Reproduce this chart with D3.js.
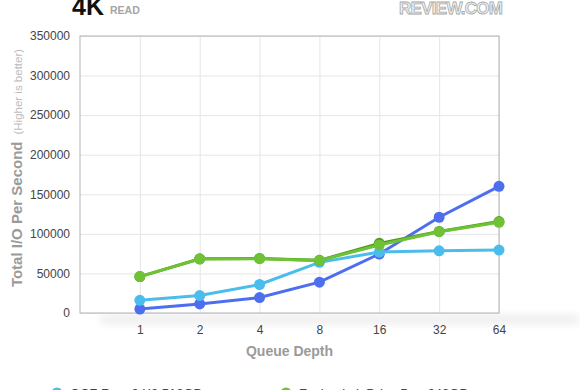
<html>
<head>
  <script src="https://d3js.org/d3.v7.min.js"></script>
  <style>
    body { margin: 0; background: #fff; overflow: hidden; }
    svg { display: block; font-family: "Liberation Sans", Arial, sans-serif; }
    .grid line { stroke: #e6e6e6; }
    .grid .domain { stroke: none; }
    .tick text { fill: #444; font-size: 12px; }
  </style>
</head>
<body>
  <svg id="chart" width="580" height="390"></svg>
  <script>
    // queue depths on the x axis
    const depths = ["1", "2", "4", "8", "16", "32", "64"];
    const yTicks = [0, 50000, 100000, 150000, 200000, 250000, 300000, 350000];

    // IOPS
    const revoX2 = [16000, 22000, 36000, 64000, 77000, 78500, 79500];
    const zDrive = [5000, 11500, 19500, 39000, 74500, 121000, 160000];
    const ioDriveDark = [46000, 68500, 69000, 66500, 88000, 103000, 115500];
    const ioDrive = [46000, 68200, 68600, 66200, 86000, 102700, 114600];

    const seriesNames = ["OCZ Revo3 X2 512GB", "Fusion-io ioDrive Duo 640GB", "OCZ Z-Drive R4 1.6TB", "Fusion-io ioDrive Duo 1.28TB"];

    const series = [
      { name: seriesNames[2], values: zDrive, color: "#4e6ef0" },
      { name: seriesNames[0], values: revoX2, color: "#4bbdec" },
      { name: seriesNames[3], values: ioDriveDark, color: "#4c9a1e" },
      { name: seriesNames[1], values: ioDrive, color: "#6fc236" }
    ];

    const svg = d3.select("#chart");
    const margin = { top: 36, right: 81, bottom: 77, left: 80 };
    const w = 580 - margin.left - margin.right;
    const h = 390 - margin.top - margin.bottom;

    const defs = svg.append("defs");
    defs.append("filter").attr("id", "blur")
      .attr("x", "-20%").attr("y", "-200%").attr("width", "140%").attr("height", "500%")
      .append("feGaussianBlur").attr("stdDeviation", 4);

    // soft shadow under the plot
    svg.append("rect")
      .attr("x", margin.left + 20).attr("y", margin.top + h + 2)
      .attr("width", w + 60).attr("height", 9)
      .attr("fill", "#000").attr("opacity", 0.07)
      .attr("filter", "url(#blur)");

    const g = svg.append("g").attr("transform", `translate(${margin.left},${margin.top})`);

    // index 0 is the empty slot at the left edge
    const x = d3.scalePoint().domain(["", ...depths]).range([0, w]);
    const y = d3.scaleLinear().domain([0, 350000]).range([h, 0]);

    g.append("rect").attr("width", w).attr("height", h).attr("fill", "#fff");

    g.append("g").attr("class", "grid")
      .call(d3.axisLeft(y).tickValues(yTicks).tickSize(-w).tickFormat(""));
    g.append("g").attr("class", "grid")
      .call(d3.axisBottom(x).tickValues(depths).tickSize(h).tickFormat(""));

    g.append("rect").attr("width", w).attr("height", h)
      .attr("fill", "none").attr("stroke", "#b3b3b3");

    const yAxis = g.append("g")
      .call(d3.axisLeft(y).tickValues(yTicks).tickSize(0).tickPadding(10).tickFormat(d3.format("d")));
    yAxis.select(".domain").remove();

    const xAxis = g.append("g").attr("transform", `translate(0,${h})`)
      .call(d3.axisBottom(x).tickValues(depths).tickSize(0).tickPadding(12));
    xAxis.select(".domain").remove();

    const line = d3.line()
      .x((d, i) => x(depths[i]))
      .y(d => y(d));

    series.forEach(s => {
      g.append("path").datum(s.values)
        .attr("d", line)
        .attr("fill", "none")
        .attr("stroke", s.color)
        .attr("stroke-width", 3);
      g.selectAll(null).data(s.values).enter().append("circle")
        .attr("cx", (d, i) => x(depths[i]))
        .attr("cy", d => y(d))
        .attr("r", 5.5)
        .attr("fill", s.color);
    });

    // axis titles
    svg.append("text")
      .attr("x", margin.left + w / 2).attr("y", 356)
      .attr("text-anchor", "middle")
      .attr("fill", "#9a9a9a").attr("font-weight", "bold").attr("font-size", 14)
      .text("Queue Depth");

    const yt = svg.append("text")
      .attr("transform", `translate(22,168) rotate(-90)`)
      .attr("text-anchor", "middle")
      .attr("fill", "#9a9a9a");
    yt.append("tspan").attr("font-weight", "bold").attr("font-size", 15).text("Total I/O Per Second");
    yt.append("tspan").attr("font-size", 11.5).attr("fill", "#bdbdbd").attr("dx", 7).text("(Higher is better)");

    // heading and logo
    svg.append("text").attr("x", 72).attr("y", 15)
      .attr("font-size", 25).attr("font-weight", "bold").attr("fill", "#111")
      .text("4K");
    svg.append("text").attr("x", 110).attr("y", 14)
      .attr("font-size", 10.5).attr("font-weight", "bold").attr("fill", "#a5a5a5")
      .text("READ");
    svg.append("text").attr("x", 503).attr("y", 14)
      .attr("text-anchor", "end")
      .attr("font-size", 17).attr("font-weight", "bold")
      .attr("fill", "#f2f2f2").attr("stroke", "#a8a8a8").attr("stroke-width", 0.8)
      .attr("textLength", 104)
      .text("REVIEW.COM");

    // legend, mostly below the visible area
    const legend = [
      { name: seriesNames[0], color: "#4bbdec", x: 57, y: 393 },
      { name: seriesNames[1], color: "#6fc236", x: 286, y: 393 },
      { name: seriesNames[2], color: "#4e6ef0", x: 57, y: 415 },
      { name: seriesNames[3], color: "#4c9a1e", x: 286, y: 415 }
    ];
    const li = svg.selectAll(".leg").data(legend).enter().append("g")
      .attr("transform", d => `translate(${d.x},${d.y})`);
    li.append("circle").attr("r", 5.5).attr("fill", d => d.color);
    li.append("text").attr("x", 13).attr("y", 5)
      .attr("font-size", 13).attr("fill", "#444")
      .text(d => d.name);
  </script>
</body>
</html>
